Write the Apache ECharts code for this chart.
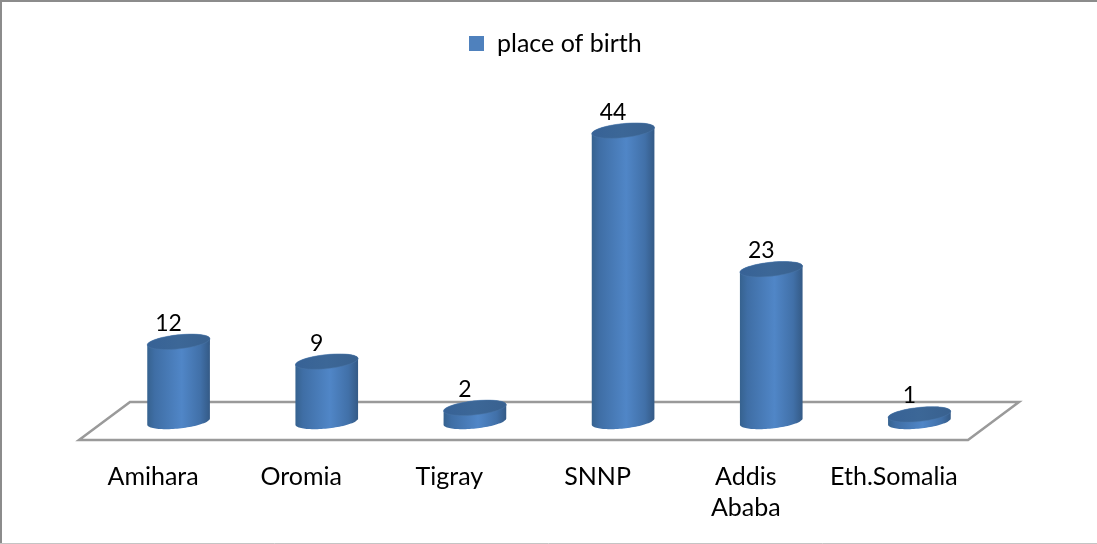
<!DOCTYPE html>
<html>
<head>
<meta charset="utf-8">
<style>html,body{margin:0;padding:0;background:#fff}#c{width:1097px;height:544px}</style>
<script src="https://cdn.jsdelivr.net/npm/echarts@6/dist/echarts.min.js"></script>
</head>
<body>
<div id="c"></div>
<script>
const categories = ['Amihara', 'Oromia', 'Tigray', 'SNNP', 'Addis\nAbaba', 'Eth.Somalia'];
const birthValues = [12, 9, 2, 44, 23, 1];
const seriesName = 'place of birth';

const DEPTH_X = 51, DEPTH_Y = 38, RX = 31.5, RY = 7, TILT = -6 * Math.PI / 180;
function ellipsePoint(cx, cy, t) {
  const x = RX * Math.cos(t), y = RY * Math.sin(t);
  return [cx + x * Math.cos(TILT) - y * Math.sin(TILT), cy + x * Math.sin(TILT) + y * Math.cos(TILT)];
}
function arcPoints(cx, cy, a, b) {
  const pts = [];
  for (let i = 0; i <= 48; i++) pts.push(ellipsePoint(cx, cy, a + (b - a) * i / 48));
  return pts;
}
const sideFill = () => new echarts.graphic.LinearGradient(0, 0, 1, 0, [
  { offset: 0, color: '#36628f' }, { offset: 0.12, color: '#3f6ea5' },
  { offset: 0.55, color: '#5086c7' }, { offset: 0.85, color: '#4170a8' },
  { offset: 1, color: '#345a86' }
]);
const capFill = () => new echarts.graphic.LinearGradient(0, 0, 1, 0, [
  { offset: 0, color: '#376296' }, { offset: 0.5, color: '#3c6797' }, { offset: 1, color: '#39618f' }
]);

const chart = echarts.init(document.getElementById('c'), null, { renderer: 'canvas' });
chart.setOption({
  animation: false,
  backgroundColor: '#fff',
  graphic: [
    { type: 'line', shape: { x1: 0, y1: 1, x2: 1097, y2: 1 }, style: { stroke: '#8c8c8c', lineWidth: 2 } },
    { type: 'line', shape: { x1: 1, y1: 0, x2: 1, y2: 544 }, style: { stroke: '#8c8c8c', lineWidth: 2 } },
    { type: 'line', shape: { x1: 0, y1: 543.5, x2: 1097, y2: 543.5 }, style: { stroke: '#c4c4c4', lineWidth: 1 } }
  ],
  legend: {
    left: 464, top: 26, itemWidth: 15, itemHeight: 15, icon: 'rect',
    textStyle: { fontFamily: 'Lato', fontSize: 25, color: '#000', padding: [0, 0, 0, 8] },
    data: [seriesName]
  },
  grid: { left: 79, width: 889, top: 44, height: 396 },
  xAxis: {
    type: 'category', data: categories,
    axisLine: { show: false }, axisTick: { show: false }, splitLine: { show: false },
    axisLabel: { interval: 0, margin: 21, fontFamily: 'Lato', fontSize: 25, color: '#000', lineHeight: 31, verticalAlign: 'top' }
  },
  yAxis: { type: 'value', min: 0, max: 60, show: false },
  series: [
    {
      type: 'custom', name: 'floor', silent: true, z: 1, data: [0],
      renderItem(params, api) {
        const band = api.size([1, 0])[0];
        const a = api.coord([0, 0]), b = api.coord([categories.length - 1, 0]);
        const l = a[0] - band / 2, r = b[0] + band / 2, y = a[1];
        return {
          type: 'polygon',
          shape: { points: [[l, y], [r, y], [r + DEPTH_X, y - DEPTH_Y], [l + DEPTH_X, y - DEPTH_Y]] },
          style: { fill: 'none', stroke: '#9a9a9a', lineWidth: 2.5 }
        };
      }
    },
    {
      type: 'custom', name: seriesName, z: 2,
      itemStyle: { color: '#4f81bd' },
      encode: { x: 0, y: 1 },
      data: birthValues.map((v, i) => [i, v]),
      renderItem(params, api) {
        const v = api.value(1);
        const top = api.coord([api.value(0), v]);
        const base = api.coord([api.value(0), 0]);
        const cx = top[0] + DEPTH_X / 2;
        const yTop = top[1] - DEPTH_Y / 2, yBase = base[1] - DEPTH_Y / 2;
        const side = arcPoints(cx, yBase + 0.5, 0, Math.PI).concat(arcPoints(cx, yTop, Math.PI, 2 * Math.PI));
        return {
          type: 'group',
          children: [
            { type: 'polygon', shape: { points: side }, style: { fill: sideFill() } },
            { type: 'polygon', shape: { points: arcPoints(cx, yTop, 0, 2 * Math.PI) }, style: { fill: capFill(), stroke: '#4a76a8', lineWidth: 0.5 } },
            { type: 'text', x: cx - 10, y: yTop - 18.5, style: { text: String(v), fontFamily: 'Lato', fontSize: 23, fill: '#000', align: 'center', verticalAlign: 'middle' } }
          ]
        };
      }
    }
  ]
});
</script>
</body>
</html>
